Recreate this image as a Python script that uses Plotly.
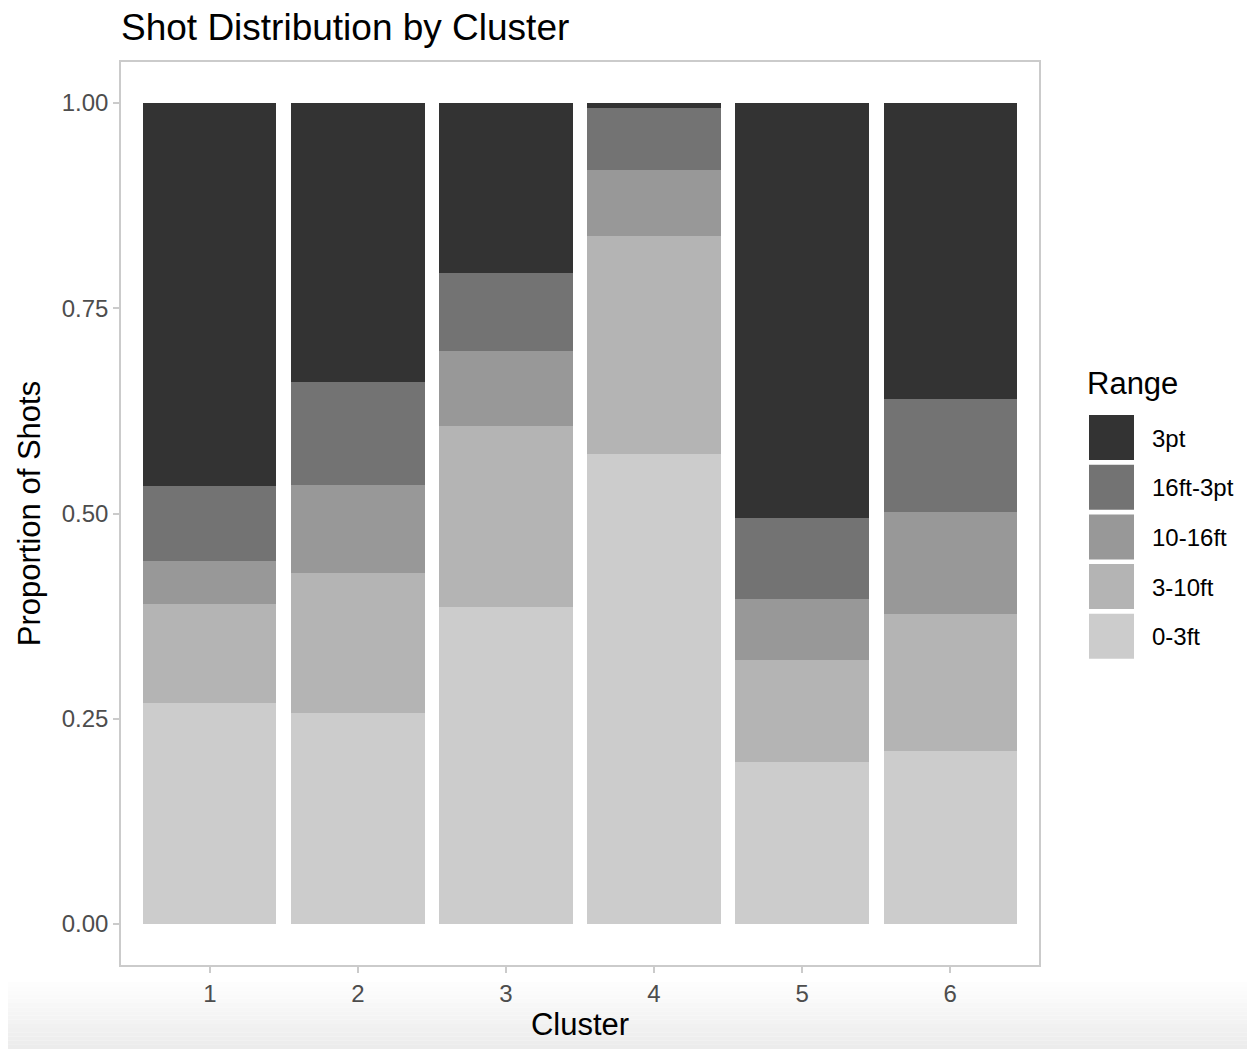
import plotly.graph_objects as go

clusters = ["1", "2", "3", "4", "5", "6"]
ranges = ["0-3ft", "3-10ft", "10-16ft", "16ft-3pt", "3pt"]
colors = ["#cccccc", "#b4b4b4", "#989898", "#737373", "#333333"]

share_0_3 = [0.269, 0.257, 0.386, 0.572, 0.197, 0.211]
share_3_10 = [0.121, 0.171, 0.221, 0.266, 0.125, 0.167]
share_10_16 = [0.052, 0.107, 0.091, 0.080, 0.074, 0.124]
share_16_3pt = [0.091, 0.125, 0.095, 0.076, 0.099, 0.137]
share_3pt = [0.467, 0.340, 0.207, 0.006, 0.505, 0.361]

series = [share_0_3, share_3_10, share_10_16, share_16_3pt, share_3pt]
y_ticks = [0.0, 0.25, 0.5, 0.75, 1.0]
y_ticktext = ["0.00", "0.25", "0.50", "0.75", "1.00"]

FONT = "Liberation Sans, Arial, Helvetica, sans-serif"

fig = go.Figure()
for name, vals, col in zip(ranges, series, colors):
    fig.add_trace(go.Bar(x=clusters, y=vals, name=name, marker=dict(color=col, line=dict(width=0)),
                         showlegend=False))

# the page places the figure at an 8px offset; work in screen pixels and shift
OFF = 8
W, H = 1255 - OFF, 1049 - OFF
ml = 121 - OFF
mt = 62 - OFF
mr = W - (1039 - OFF)
mb = H - (965 - OFF)
pw, ph = W - ml - mr, H - mt - mb

def px_x(px):
    return (px - OFF - ml) / pw

def px_y(py):
    return (H - mb - (py - OFF)) / ph

shapes = []
annotations = []

# bottom gradient band (screenshot shading)
n_strips = 16
top_px, bot_px = 982, 1049
for i in range(n_strips):
    y0 = top_px + (bot_px - top_px) * i / n_strips
    y1 = top_px + (bot_px - top_px) * (i + 1) / n_strips
    g = int(255 - (255 - 236) * (i + 1) / n_strips)
    shapes.append(dict(type="rect", xref="paper", yref="paper", x0=px_x(OFF), x1=px_x(1255),
                       y0=px_y(y1), y1=px_y(y0), fillcolor=f"rgb({g},{g},{g})",
                       line=dict(width=0), layer="below"))

# manual legend (reverse order, 3pt at top)
annotations.append(dict(text="Range", xref="paper", yref="paper", x=px_x(1085), y=px_y(383),
                        xanchor="left", yanchor="middle", showarrow=False,
                        font=dict(family=FONT, size=31, color="#000000")))
leg_names = list(reversed(ranges))
leg_cols = list(reversed(colors))
for i, (nm, col) in enumerate(zip(leg_names, leg_cols)):
    top = 415 + i * 49.7
    shapes.append(dict(type="rect", xref="paper", yref="paper", x0=px_x(1089), x1=px_x(1134),
                       y0=px_y(top + 45), y1=px_y(top), fillcolor=col, line=dict(width=0)))
    annotations.append(dict(text=nm, xref="paper", yref="paper", x=px_x(1150), y=px_y(top + 23),
                            xanchor="left", yanchor="middle", showarrow=False,
                            font=dict(family=FONT, size=24, color="#000000")))

fig.update_layout(
    barmode="stack",
    bargap=0.1,
    width=W, height=H,
    margin=dict(l=ml, r=mr, t=mt, b=mb, pad=0),
    paper_bgcolor="white",
    plot_bgcolor="white",
    font=dict(family=FONT),
    title=dict(text="Shot Distribution by Cluster", xref="container", x=(121 - OFF) / W,
               xanchor="left", y=1 - (27 - OFF) / H, yanchor="middle",
               font=dict(family=FONT, size=37, color="#000000")),
    shapes=shapes,
    annotations=annotations,
    showlegend=False,
)

fig.update_xaxes(
    range=[-0.6, 5.6], showgrid=False, zeroline=False,
    showline=True, mirror=True, linecolor="#cbcbcb", linewidth=1.5,
    ticks="outside", ticklen=6, tickcolor="#cbcbcb", tickwidth=1.5,
    tickfont=dict(family=FONT, size=24, color="#4d4d4d"),
    title=dict(text="Cluster", font=dict(family=FONT, size=31, color="#000000"), standoff=8),
)
fig.update_yaxes(
    range=[-0.05, 1.05], showgrid=False, zeroline=False,
    showline=True, mirror=True, linecolor="#cbcbcb", linewidth=1.5,
    ticks="outside", ticklen=6, tickcolor="#cbcbcb", tickwidth=1.5,
    tickvals=y_ticks, ticktext=y_ticktext,
    tickfont=dict(family=FONT, size=24, color="#4d4d4d"),
    title=dict(text="Proportion of Shots", font=dict(family=FONT, size=31, color="#000000"), standoff=12),
)

fig.write_html("out.html")
